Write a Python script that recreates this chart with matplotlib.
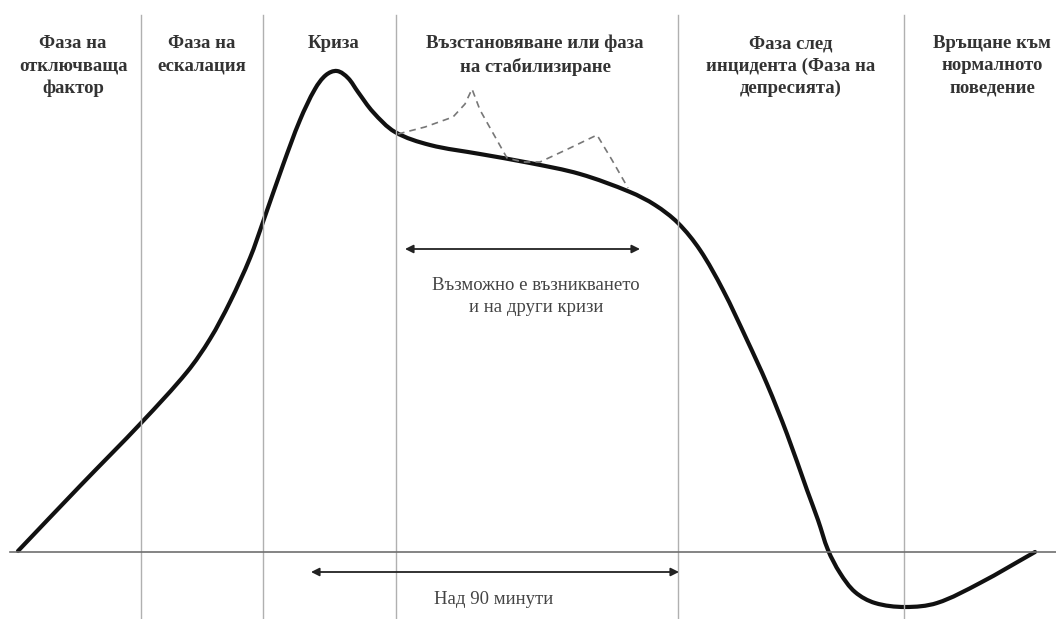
import matplotlib
matplotlib.use("Agg")
import matplotlib.pyplot as plt
import numpy as np
from matplotlib.path import Path
from matplotlib.patches import PathPatch

# Phase boundaries (x positions on the time axis)
phase_bounds = [141, 263, 396, 678, 904]
phase_centres = [73, 202, 334, 535, 791, 992]
phase_labels = [
    "Фаза на\nотключваща\nфактор",
    "Фаза на\nескалация",
    "Криза",
    "Възстановяване или фаза\nна стабилизиране",
    "Фаза след\nинцидента (Фаза на\nдепресията)",
    "Връщане към\nнормалното\nповедение",
]

# Main curve (y grows downward)
curve_x = [18, 80, 142, 187, 210, 230, 250, 263, 283, 300, 315, 326, 337, 348,
           358, 373, 395, 430, 480, 530, 580, 630, 655, 678, 700, 723, 747, 767,
           787, 807, 818, 828, 840, 855, 875, 905, 937, 980, 1035]
curve_y = [551, 486, 422, 372, 339, 302, 258, 222, 165, 120, 89, 75, 71, 78,
           92, 112, 132, 145, 154, 163, 174, 192, 205, 223, 250, 290, 340, 384,
           434, 490, 520, 550, 573, 592, 603, 607, 603, 583, 552]

# Dashed "other crises" line
dash_x = [398, 425, 453, 465, 472, 480, 507, 523, 540, 570, 597, 612, 628]
dash_y = [134, 127, 117, 104, 89, 110, 158, 162, 162, 148, 135, 160, 188]

baseline_y = 552


def smooth_path(xs, ys):
    # chord-length Catmull-Rom through the points, as cubic Bezier segments
    pts = np.column_stack((xs, ys)).astype(float)
    n = len(pts)
    seg = np.hypot(*np.diff(pts, axis=0).T)
    tang = np.zeros_like(pts)
    for i in range(n):
        a, b = max(i - 1, 0), min(i + 1, n - 1)
        d = pts[b] - pts[a]
        tang[i] = d / np.hypot(*d)
    verts = [pts[0]]
    codes = [Path.MOVETO]
    for i in range(n - 1):
        L = seg[i] / 3.0
        verts += [pts[i] + tang[i] * L, pts[i + 1] - tang[i + 1] * L, pts[i + 1]]
        codes += [Path.CURVE4] * 3
    return Path(verts, codes)


plt.rcParams['font.family'] = ['Liberation Serif', 'DejaVu Serif']
fig = plt.figure(figsize=(10.56, 6.19), dpi=100)
ax = fig.add_axes([0, 0, 1, 1])
ax.set_xlim(0, 1056)
ax.set_ylim(619, 0)
ax.axis("off")

for xb in phase_bounds:
    ax.plot([xb, xb], [15, 619], color="#b0b0b0", lw=1.0)
ax.plot([10, 1056], [baseline_y, baseline_y], color="#707070", lw=1.2)

ax.add_patch(PathPatch(smooth_path(curve_x, curve_y), facecolor="none",
                       edgecolor="#111111", lw=3.0, capstyle="round", joinstyle="round"))
ax.plot(dash_x, dash_y, color="#777777", lw=1.2, ls=(0, (4, 3)))

for xc, lab in zip(phase_centres, phase_labels):
    ax.text(xc, 35, lab, ha="center", va="top", fontsize=13.5, fontweight="bold",
            color="#333333", linespacing=1.4)

ax.annotate("", xy=(405, 249), xytext=(640, 249),
            arrowprops=dict(arrowstyle="<|-|>", color="#222222", lw=1.3,
                            mutation_scale=12, shrinkA=0, shrinkB=0))
ax.text(536, 277, "Възможно е възникването\nи на други кризи", ha="center", va="top",
        fontsize=13.5, color="#444444", linespacing=1.4)

ax.annotate("", xy=(311, 572), xytext=(679, 572),
            arrowprops=dict(arrowstyle="<|-|>", color="#222222", lw=1.3,
                            mutation_scale=12, shrinkA=0, shrinkB=0))
ax.text(494, 600, "Над 90 минути", ha="center", va="center", fontsize=13.5,
        color="#444444")

fig.savefig("out.png", dpi=100)
